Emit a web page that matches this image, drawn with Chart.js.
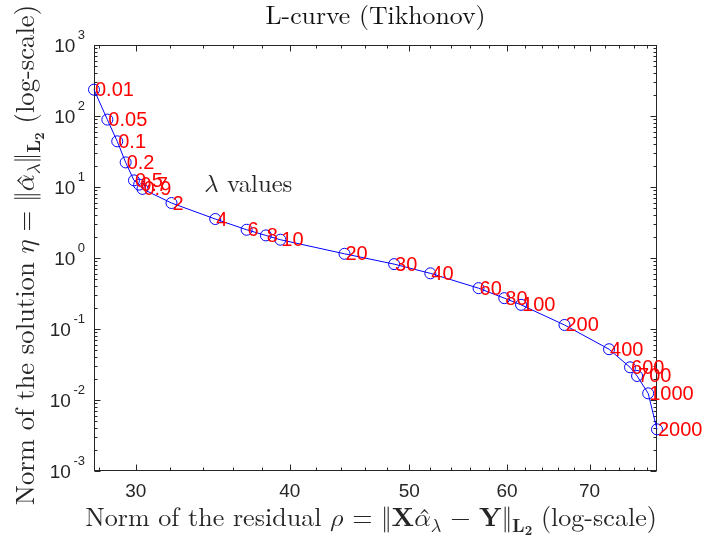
<!DOCTYPE html>
<html><head><meta charset="utf-8">
<script src="https://cdn.jsdelivr.net/npm/chart.js@4/dist/chart.umd.min.js"></script>
<style>html,body{margin:0;padding:0;background:#fff;overflow:hidden}#wrap{width:705px;height:536px}</style>
</head><body><div id="wrap"><canvas id="c" width="705" height="536"></canvas></div>
<script>
// ---- data ----
const lambdaLabels = ['0.01','0.05','0.1','0.2','0.5','0.7','0.9','2','4','6','8','10','20','30','40','60','80','100','200','400','600','700','1000','2000'];
const residualNorm = [27.75,28.45,28.98,29.44,29.9,30.19,30.38,32.07,34.8,36.9,38.25,39.3,44.3,48.6,52.0,56.9,59.7,61.6,66.8,72.6,75.5,76.5,78.1,79.4];
const solutionNorm = [235,89,44,22.2,12.4,10.8,9.4,5.95,3.54,2.50,2.08,1.81,1.146,0.82,0.608,0.376,0.272,0.219,0.114,0.0519,0.0289,0.0218,0.0124,0.00386];
const xTickValues = [30,40,50,60,70];
const xMinorStep = 2;
const yTickExponents = [-3,-2,-1,0,1,2,3];
const annotationText = 'values';
const annotationAt = {x: 34.1, y: 10.8};

const SERIF = '"Latin Modern Roman", "Liberation Serif", serif';
const MATH = '"Latin Modern Math", "Latin Modern Roman", "DejaVu Serif", serif';
const SANS = '"Liberation Sans", Arial, sans-serif';
const AXIS_COLOR = '#262626';

function runFont(r, size){
  const s = r.sub===2 ? size*0.5 : (r.sub ? size*0.7 : size);
  return (r.it?'italic ':'') + (r.b?'bold ':'') + s.toFixed(2) + 'px ' + (r.m ? MATH : SERIF);
}
function measureRuns(ctx, runs, size){
  let w = 0;
  for (const r of runs){ ctx.font = runFont(r,size); w += ctx.measureText(r.t).width; }
  return w;
}
function drawRuns(ctx, runs, x, y, size){
  let cx = x;
  for (const r of runs){
    ctx.font = runFont(r,size);
    const dy = r.sub===2 ? size*0.36 : (r.sub ? size*0.22 : 0);
    ctx.fillText(r.t, cx, y+dy);
    const w = ctx.measureText(r.t).width;
    if (r.hat){
      ctx.font = size.toFixed(2)+'px '+SERIF;
      const hw = ctx.measureText('\u02C6').width;
      ctx.fillText('\u02C6', cx + w/2 - hw/2 + size*0.08, y + size*0.02);
    }
    cx += w;
  }
}
function drawLabel(ctx, runs, x, y, targetW, color, rotate, align){
  ctx.save();
  ctx.fillStyle = color;
  ctx.textBaseline = 'alphabetic';
  ctx.textAlign = 'left';
  const base = 20;
  const size = base * targetW / measureRuns(ctx, runs, base);
  const w = measureRuns(ctx, runs, size);
  ctx.translate(x, y);
  if (rotate) ctx.rotate(-Math.PI/2);
  drawRuns(ctx, runs, align==='left' ? 0 : -w/2, 0, size);
  ctx.restore();
}

const titleRuns = [{t:'L-curve (Tikhonov)'}];
const xTitleRuns = [{t:'Norm of the residual '},{t:'\u{1D70C}',m:1},{t:' = ',m:1},{t:'\u2016',m:1},{t:'X',b:1},{t:'\u{1D6FC}',m:1,hat:1},{t:'\u{1D706}',m:1,sub:1},{t:' \u2212 ',m:1},{t:'Y',b:1},{t:'\u2016',m:1},{t:'L',b:1,sub:1},{t:'2',b:1,sub:2},{t:' (log-scale)'}];
const yTitleRuns = [{t:'Norm of the solution '},{t:'\u{1D702}',m:1},{t:' = ',m:1},{t:'\u2016',m:1},{t:'\u{1D6FC}',m:1,hat:1},{t:'\u{1D706}',m:1,sub:1},{t:'\u2016',m:1},{t:'L',b:1,sub:1},{t:'2',b:1,sub:2},{t:' (log-scale)'}];
const annRuns = [{t:'\u{1D706}',m:1},{t:' '+annotationText}];

const matlabAxes = {
  id: 'matlabAxes',
  beforeDatasetsDraw(chart){
    const {ctx, chartArea:a, scales:{x, y}} = chart;
    ctx.save();
    ctx.strokeStyle = AXIS_COLOR; ctx.lineWidth = 1;
    const L = Math.round(a.left)+0.5, R = Math.round(a.right)-0.5, T = Math.round(a.top)+0.5, B = Math.round(a.bottom)-0.5;
    ctx.beginPath();
    const xStart = Math.ceil(x.min / xMinorStep) * xMinorStep;
    for (let v = xStart; v <= x.max; v += xMinorStep){
      const p = Math.round(x.getPixelForValue(v)) + 0.5;
      const len = xTickValues.includes(v) ? 6 : 3;
      ctx.moveTo(p, B); ctx.lineTo(p, B-len);
      ctx.moveTo(p, T); ctx.lineTo(p, T+len);
    }
    for (const e of yTickExponents){
      for (let k = 1; k <= 9; k++){
        const v = k * Math.pow(10, e);
        if (v > y.max * 1.0001) break;
        const p = Math.round(y.getPixelForValue(v)) + 0.5;
        const len = k === 1 ? 6 : 3;
        ctx.moveTo(L, p); ctx.lineTo(L+len, p);
        ctx.moveTo(R, p); ctx.lineTo(R-len, p);
      }
    }
    ctx.stroke();
    ctx.strokeRect(L, T, R-L, B-T);
    ctx.restore();
  },
  afterDatasetsDraw(chart){
    const {ctx, scales:{x, y}} = chart;
    ctx.save();
    ctx.fillStyle = '#ff0000';
    ctx.font = '20px ' + SANS;
    ctx.textAlign = 'left'; ctx.textBaseline = 'middle';
    lambdaLabels.forEach((lab, i) => {
      const px = x.getPixelForValue(residualNorm[i]);
      const py = y.getPixelForValue(solutionNorm[i]);
      ctx.fillText(lab, px + 1, py + 1);
    });
    ctx.restore();
  },
  afterDraw(chart){
    const {ctx, chartArea:a, scales:{x, y}} = chart;
    ctx.save();
    ctx.fillStyle = AXIS_COLOR;
    ctx.font = '19px ' + SANS;
    ctx.textAlign = 'center'; ctx.textBaseline = 'alphabetic';
    for (const v of xTickValues){
      ctx.fillText(String(v), x.getPixelForValue(v), a.bottom + 26);
    }
    const expRight = a.left - 9;
    for (const e of yTickExponents){
      const p = y.getPixelForValue(Math.pow(10, e));
      ctx.textAlign = 'right';
      ctx.font = '13px ' + SANS;
      const es = String(e);
      const ew = ctx.measureText(es).width;
      ctx.fillText(es, expRight, p - 6);
      ctx.font = '19px ' + SANS;
      ctx.fillText('10', expRight - ew - 2.5, p + 7);
    }
    ctx.restore();
    drawLabel(ctx, titleRuns, (a.left + a.right)/2, 24, 220, '#111', false);
    drawLabel(ctx, xTitleRuns, 371, 526, 572, AXIS_COLOR, false);
    drawLabel(ctx, yTitleRuns, 34, 255, 500, AXIS_COLOR, true);
    drawLabel(ctx, annRuns, x.getPixelForValue(annotationAt.x), y.getPixelForValue(annotationAt.y) + 7, 88, AXIS_COLOR, false, 'left');
  }
};

function build(){
  new Chart(document.getElementById('c'), {
    type: 'line',
    data: {
      datasets: [{
        data: residualNorm.map((r, i) => ({x: r, y: solutionNorm[i]})),
        borderColor: '#0000ff',
        borderWidth: 1,
        backgroundColor: 'rgba(0,0,0,0)',
        pointStyle: 'circle',
        pointRadius: 5.5,
        pointBorderWidth: 1,
        pointBorderColor: '#0000ff',
        pointBackgroundColor: 'rgba(0,0,0,0)',
        tension: 0,
        fill: false,
        clip: false
      }]
    },
    options: {
      responsive: false,
      animation: false,
      devicePixelRatio: 1,
      layout: {padding: {left: 94, top: 45, right: 48, bottom: 65}},
      plugins: {legend: {display: false}, tooltip: {enabled: false}, title: {display: false}},
      scales: {
        x: {type: 'logarithmic', display: false, min: Math.min(...residualNorm), max: Math.max(...residualNorm)},
        y: {type: 'logarithmic', display: false, min: 1e-3, max: 1e3}
      }
    },
    plugins: [matlabAxes]
  });
}
const fontLoads = [
  '20px "Latin Modern Roman"', 'bold 20px "Latin Modern Roman"', '20px "Latin Modern Math"', '19px "Liberation Sans"'
].map(f => document.fonts.load(f).catch(() => null));
Promise.all(fontLoads).then(build, build);
</script>
</body></html>
